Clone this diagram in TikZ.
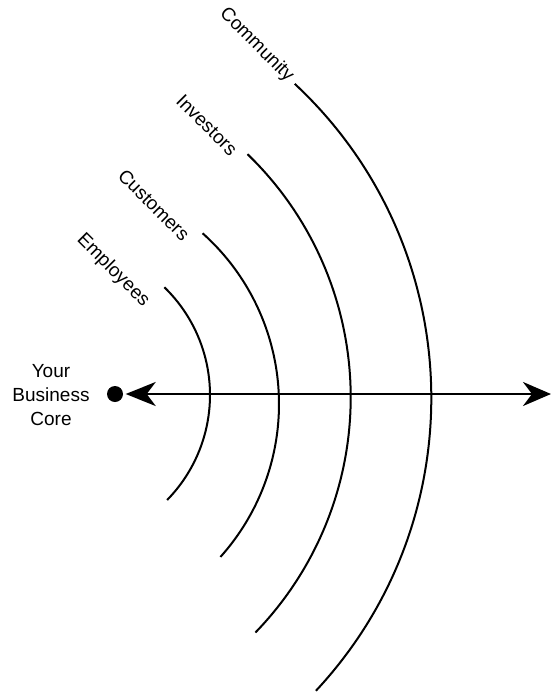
\documentclass[tikz,border=0pt]{standalone}
\usepackage{fontspec}
\setmainfont{Liberation Sans}
\usetikzlibrary{arrows.meta}
\tikzset{
  ring/.style={line width=2pt},
  ringlabel/.style={rotate=-45,inner sep=0pt,font=\fontsize{19}{24}\selectfont},
  axis/.style={line width=2.8pt,
    {Stealth[length=30pt,width=24pt,inset=9pt]}-{Stealth[length=28pt,width=24pt,inset=9pt]}}
}
\begin{document}
\begin{tikzpicture}[x=1pt,y=-1pt]
  \useasboundingbox (0,0) rectangle (552,694);
  % core and axis
  \node[circle,fill,inner sep=0pt,minimum size=16pt] (dot) at (115,394) {};
  \node[align=center,inner sep=0pt,font=\fontsize{19}{24}\selectfont] (core) at (51,395) {Your\\Business\\Core};
  \coordinate (rim) at (551,394);
  \draw[axis,shorten <=2.5pt] (dot) -- (rim);
  % the four rings
  \draw[ring] (60,395) ++(-45.9:150) arc[start angle=-45.9,end angle=44.4,radius=150];
  \draw[ring] (50,404) ++(-48.2:229) arc[start angle=-48.2,end angle=41.9,radius=229];
  \draw[ring] (12.7,397.3) ++(-46:338) arc[start angle=-46,end angle=44.1,radius=338];
  \draw[ring] (1.9,397.9) ++(-47:429.4) arc[start angle=-47,end angle=43,radius=429.4];
  % labels
  \node[ringlabel] (employees) at (113,270.5) {Employees};
  \node[ringlabel] (customers) at (154,205) {Customers};
  \node[ringlabel] (investors) at (207,125) {Investors};
  \node[ringlabel] (community) at (256.5,45) {Community};
\end{tikzpicture}
\end{document}
